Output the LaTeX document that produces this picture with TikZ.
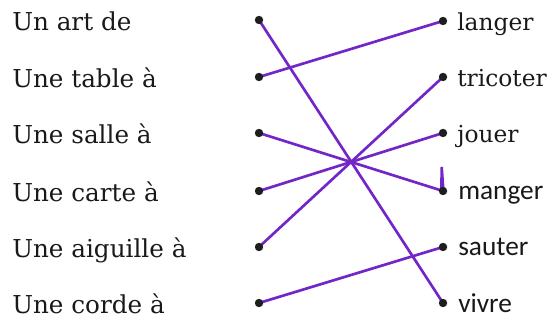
\documentclass[tikz,border=0pt]{standalone}
\usepackage{fontspec}
\usetikzlibrary{calc}
\newfontfamily\calib{Carlito}
\newfontfamily\dvserif{DejaVu Serif}
\definecolor{linkcol}{RGB}{115,38,200}
\definecolor{dotcol}{RGB}{30,30,30}
\definecolor{textcol}{RGB}{25,25,25}
\tikzset{
  link/.style={linkcol, line width=2pt},
  leftlabel/.style={anchor=base west, inner sep=0pt, text=textcol, font=\dvserif\fontsize{18.5}{22}\selectfont},
  rightlabel/.style={anchor=base west, inner sep=0pt, text=textcol, font=\dvserif\fontsize{17.5}{22}\selectfont},
  sanslabel/.style={anchor=base west, inner sep=0pt, text=textcol, font=\calib\fontsize{20.5}{25}\selectfont}
}
\begin{document}
\begin{tikzpicture}[x=0.75pt,y=-0.75pt]
\useasboundingbox (0,0) rectangle (552,323);
% left column
\coordinate (art) at (259,20);
\coordinate (table) at (259,77);
\coordinate (salle) at (259,133);
\coordinate (carte) at (259,191);
\coordinate (aiguille) at (259,247);
\coordinate (corde) at (259,303);
% right column
\coordinate (langer) at (443,21);
\coordinate (tricoter) at (443,77);
\coordinate (jouer) at (443,133);
\coordinate (manger) at (443,191);
\coordinate (sauter) at (443,247);
\coordinate (vivre) at (443,303);
\node[leftlabel] (tart) at (12,31) {Un art de};
\node[leftlabel] (ttable) at (12,88) {Une table à};
\node[leftlabel] (tsalle) at (12,144) {Une salle à};
\node[leftlabel] (tcarte) at (12,202) {Une carte à};
\node[leftlabel] (taiguille) at (12,258) {Une aiguille à};
\node[leftlabel] (tcorde) at (12,314) {Une corde à};
\node[rightlabel] (tlanger) at (457,31) {langer};
\node[rightlabel] (ttricoter) at (457,87) {tricoter};
\node[rightlabel] (tjouer) at (457,143) {jouer};
\node[sanslabel] (tmanger) at (458,200) {manger};
\node[sanslabel] (tsauter) at (458,256) {sauter};
\node[sanslabel] (tvivre) at (458,312) {vivre};
% links
\draw[link] (art) -- (vivre);
\draw[link] (table) -- (langer);
\draw[link] (salle) -- (manger);
\draw[link] (carte) -- (jouer);
\draw[link] (aiguille) -- (tricoter);
\draw[link] (corde) -- (sauter);
\fill[linkcol] ($(manger)+(-3,-3)$) -- ($(manger)+(-2.5,-24)$) -- ($(manger)+(0,-24)$) -- ($(manger)+(1.5,-3)$) -- cycle;
% dots
\foreach \d in {art,table,salle,carte,aiguille,corde,langer,tricoter,jouer,manger,sauter,vivre}
  \fill[dotcol] (\d) circle (4.2);
\end{tikzpicture}
\end{document}
